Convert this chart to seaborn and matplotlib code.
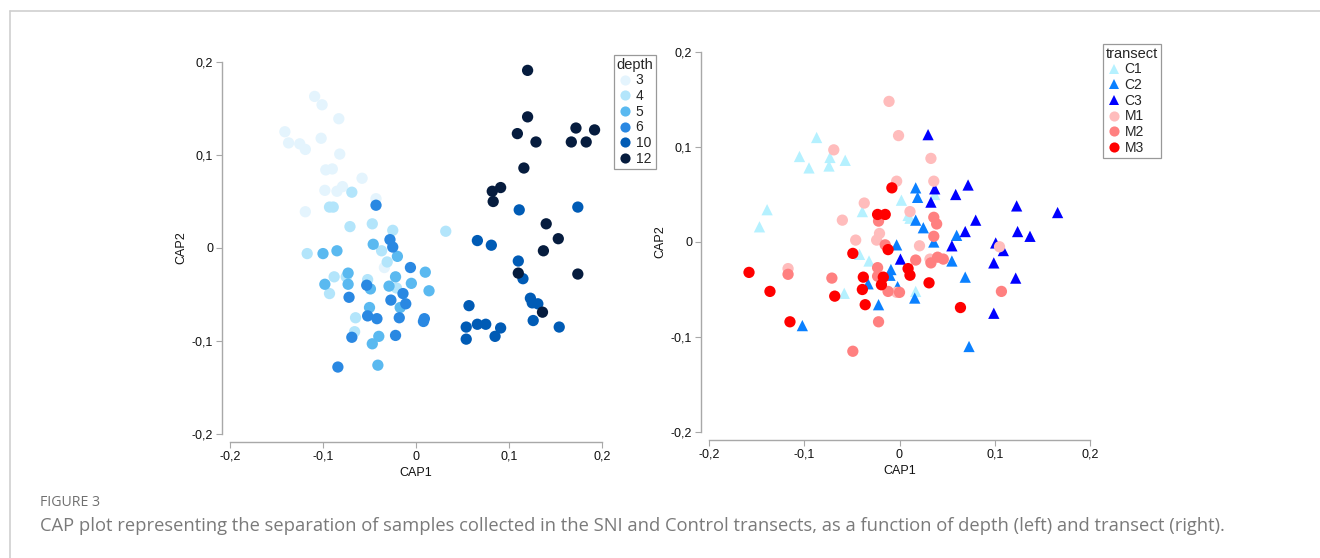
import matplotlib
matplotlib.use('Agg')
import matplotlib.pyplot as plt
import seaborn as sns
import pandas as pd
from matplotlib.lines import Line2D

# ---------------- data: left panel (by depth) ----------------
depth_levels = ['3', '4', '5', '6', '10', '12']
depth_colors = ['#e4f4fd', '#b3e5fb', '#5ab9f0', '#2a88e2', '#005bb5', '#061c3e']

d3_cap1 = [-0.109, -0.101, -0.083, -0.141, -0.137, -0.125, -0.119, -0.102, -0.082,
           -0.097, -0.090, -0.058, -0.098, -0.085, -0.079, -0.043, -0.119, -0.034]
d3_cap2 = [0.163, 0.154, 0.139, 0.125, 0.113, 0.112, 0.106, 0.118, 0.101,
           0.084, 0.085, 0.075, 0.062, 0.061, 0.066, 0.053, 0.039, -0.021]
d4_cap1 = [-0.069, -0.093, -0.089, -0.071, -0.047, -0.025, 0.032, -0.117, -0.037,
           -0.031, -0.088, -0.075, -0.052, -0.021, -0.093, -0.065, -0.066]
d4_cap2 = [0.060, 0.044, 0.044, 0.023, 0.026, 0.019, 0.018, -0.006, -0.003,
           -0.015, -0.031, -0.031, -0.034, -0.043, -0.049, -0.075, -0.090]
d5_cap1 = [-0.046, -0.085, -0.100, -0.020, 0.010, -0.073, -0.022, -0.098, -0.073,
           -0.049, -0.029, -0.005, 0.014, -0.017, -0.050, -0.040, -0.047, -0.041]
d5_cap2 = [0.004, -0.003, -0.006, -0.009, -0.026, -0.027, -0.031, -0.039, -0.039,
           -0.044, -0.041, -0.038, -0.046, -0.064, -0.064, -0.095, -0.103, -0.126]
d6_cap1 = [-0.043, -0.028, -0.025, -0.006, -0.053, -0.014, -0.072, -0.027, -0.011,
           -0.052, -0.042, -0.018, 0.009, 0.008, -0.069, -0.022, -0.084]
d6_cap2 = [0.046, 0.009, 0.001, -0.021, -0.040, -0.049, -0.053, -0.056, -0.060,
           -0.073, -0.076, -0.075, -0.076, -0.079, -0.096, -0.094, -0.128]
d10_cap1 = [0.111, 0.174, 0.066, 0.081, 0.110, 0.115, 0.123, 0.125, 0.131,
            0.057, 0.126, 0.154, 0.054, 0.066, 0.075, 0.091, 0.085, 0.054]
d10_cap2 = [0.041, 0.044, 0.008, 0.003, -0.014, -0.033, -0.054, -0.059, -0.060,
            -0.062, -0.078, -0.085, -0.085, -0.082, -0.082, -0.086, -0.095, -0.098]
d12_cap1 = [0.120, 0.120, 0.109, 0.129, 0.172, 0.192, 0.167, 0.183, 0.116,
            0.091, 0.082, 0.083, 0.140, 0.153, 0.137, 0.110, 0.174, 0.136]
d12_cap2 = [0.191, 0.141, 0.123, 0.114, 0.129, 0.127, 0.114, 0.114, 0.086,
            0.065, 0.061, 0.050, 0.026, 0.010, -0.003, -0.027, -0.028, -0.069]

# ---------------- data: right panel (by transect) ----------------
transect_levels = ['C1', 'C2', 'C3', 'M1', 'M2', 'M3']
transect_colors = ['#b5f1ff', '#0a80ff', '#0000ff', '#ffbcbc', '#ff8080', '#ff0000']
transect_markers = ['^', '^', '^', 'o', 'o', 'o']

c1_cap1 = [-0.087, -0.105, -0.073, -0.057, -0.095, -0.074, -0.139, -0.147, -0.039,
           0.002, 0.009, 0.011, 0.037, -0.042, -0.032, -0.058, 0.017]
c1_cap2 = [0.110, 0.090, 0.089, 0.086, 0.078, 0.080, 0.034, 0.016, 0.032,
           0.044, 0.028, 0.025, 0.050, -0.013, -0.020, -0.054, -0.052]
c2_cap1 = [0.017, 0.019, 0.017, 0.025, 0.060, 0.036, 0.055, -0.003, -0.009,
           -0.010, -0.033, -0.002, -0.022, 0.016, 0.069, -0.102, 0.073]
c2_cap2 = [0.057, 0.047, 0.023, 0.015, 0.007, 0.000, -0.020, -0.003, -0.029,
           -0.035, -0.044, -0.047, -0.066, -0.059, -0.037, -0.088, -0.110]
c3_cap1 = [0.030, 0.037, 0.072, 0.033, 0.059, 0.123, 0.166, 0.080, 0.069,
           0.124, 0.137, 0.055, 0.101, 0.109, 0.001, 0.099, 0.122, 0.099]
c3_cap2 = [0.113, 0.056, 0.060, 0.042, 0.050, 0.038, 0.031, 0.023, 0.011,
           0.011, 0.006, -0.004, -0.001, -0.009, -0.018, -0.022, -0.038, -0.075]
m1_cap1 = [-0.011, -0.001, -0.069, 0.033, -0.003, 0.036, -0.037, -0.060, 0.011,
           -0.021, -0.024, -0.046, 0.021, 0.032, -0.117, -0.003, 0.105]
m1_cap2 = [0.148, 0.112, 0.097, 0.088, 0.064, 0.064, 0.041, 0.023, 0.032,
           0.009, 0.002, 0.002, -0.004, -0.018, -0.028, -0.053, -0.005]
m2_cap1 = [-0.022, 0.036, 0.039, 0.036, -0.015, 0.017, 0.033, 0.040, 0.046,
           -0.023, -0.117, -0.071, -0.023, -0.012, 0.000, -0.022, -0.049, 0.107]
m2_cap2 = [0.022, 0.026, 0.019, 0.006, -0.003, -0.019, -0.022, -0.016, -0.018,
           -0.027, -0.034, -0.038, -0.036, -0.052, -0.053, -0.084, -0.115, -0.052]
m3_cap1 = [-0.008, -0.023, -0.015, -0.049, -0.012, -0.158, 0.009, 0.011, -0.038,
           -0.017, -0.019, 0.031, -0.136, -0.068, -0.039, -0.036, 0.064, -0.115]
m3_cap2 = [0.057, 0.029, 0.029, -0.012, -0.008, -0.032, -0.028, -0.035, -0.037,
           -0.037, -0.045, -0.043, -0.052, -0.057, -0.050, -0.066, -0.069, -0.084]

tick_values = [-0.2, -0.1, 0.0, 0.1, 0.2]
tick_labels = ['-0,2', '-0,1', '0', '0,1', '0,2']

caption_label = 'FIGURE 3'
caption_text = ('CAP plot representing the separation of samples collected in the SNI and '
                'Control transects, as a function of depth (left) and transect (right).')

# ---------------- build tables ----------------
left_groups = [(d3_cap1, d3_cap2), (d4_cap1, d4_cap2), (d5_cap1, d5_cap2),
               (d6_cap1, d6_cap2), (d10_cap1, d10_cap2), (d12_cap1, d12_cap2)]
left_df = pd.concat([pd.DataFrame({'CAP1': x, 'CAP2': y, 'depth': lev})
                     for lev, (x, y) in zip(depth_levels, left_groups)], ignore_index=True)

right_groups = [(c1_cap1, c1_cap2), (c2_cap1, c2_cap2), (c3_cap1, c3_cap2),
                (m1_cap1, m1_cap2), (m2_cap1, m2_cap2), (m3_cap1, m3_cap2)]
right_df = pd.concat([pd.DataFrame({'CAP1': x, 'CAP2': y, 'transect': lev})
                      for lev, (x, y) in zip(transect_levels, right_groups)], ignore_index=True)

# ---------------- style ----------------
sns.set_style('white')
plt.rcParams['font.family'] = ['Liberation Sans', 'DejaVu Sans']

W, H = 1320, 558
fig = plt.figure(figsize=(W / 100, H / 100), dpi=100)


def px_axes(x0, y0, x1, y1):
    return fig.add_axes([x0 / W, 1 - y1 / H, (x1 - x0) / W, (y1 - y0) / H])


ax1 = px_axes(230, 62, 602, 434)
ax2 = px_axes(709, 52, 1090, 432)

sns.scatterplot(data=left_df, x='CAP1', y='CAP2', hue='depth', hue_order=depth_levels,
                palette=dict(zip(depth_levels, depth_colors)), s=66, linewidth=0,
                ax=ax1)
sns.scatterplot(data=right_df, x='CAP1', y='CAP2', hue='transect', style='transect',
                hue_order=transect_levels, style_order=transect_levels,
                palette=dict(zip(transect_levels, transect_colors)),
                markers=dict(zip(transect_levels, transect_markers)),
                s=66, linewidth=0, ax=ax2)

spine_col = '#a8a8a8'
for ax in (ax1, ax2):
    ax.set_xlim(-0.2, 0.2)
    ax.set_ylim(-0.2, 0.2)
    ax.set_xticks(tick_values)
    ax.set_xticklabels(tick_labels)
    ax.set_yticks(tick_values)
    ax.set_yticklabels(tick_labels)
    for side in ('top', 'right'):
        ax.spines[side].set_visible(False)
    for side in ('left', 'bottom'):
        ax.spines[side].set_position(('outward', 6))
        ax.spines[side].set_color(spine_col)
        ax.spines[side].set_linewidth(1.0)
    ax.tick_params(axis='both', which='major', direction='out', length=4, width=0.8,
                   color=spine_col, labelsize=9, labelcolor='#111111', pad=2,
                   left=True, bottom=True)
    ax.set_xlabel('CAP1', fontsize=9, color='#111111', labelpad=3)
    ax.set_ylabel('CAP2', fontsize=9, color='#111111', labelpad=3)
    ax.set_facecolor('none')

legend_kw = dict(frameon=True, fancybox=False, edgecolor='#999999', framealpha=1,
                 fontsize=10, title_fontsize=10.5, borderpad=0.2, labelspacing=0.12,
                 handletextpad=0.15, handlelength=1.2, borderaxespad=0, markerscale=0.9)
sns.move_legend(ax1, 'upper left', bbox_to_anchor=((614 - 230) / 372, (434 - 55) / 372),
                title='depth', **legend_kw)
sns.move_legend(ax2, 'upper left', bbox_to_anchor=((1103 - 709) / 381, (432 - 44) / 380),
                title='transect', **legend_kw)
for ax in (ax1, ax2):
    leg = ax.get_legend()
    leg.get_frame().set_linewidth(0.9)
    leg._legend_box.align = 'left'

# ---------------- frame and caption ----------------
frame_col = '#cfcfcf'
fig.add_artist(Line2D([10 / W, 1.0], [1 - 11 / H, 1 - 11 / H], transform=fig.transFigure,
                      color=frame_col, linewidth=1.2))
fig.add_artist(Line2D([10 / W, 10 / W], [0.0, 1 - 11 / H], transform=fig.transFigure,
                      color=frame_col, linewidth=1.2))

fig.text(40 / W, 1 - 502 / H, caption_label, fontsize=10.2, color='#707070',
         family=['Open Sans', 'DejaVu Sans'], va='center', ha='left')
fig.text(40 / W, 1 - 526 / H, caption_text, fontsize=13.25, color='#7a7a7a',
         family=['Open Sans', 'DejaVu Sans'], va='center', ha='left')

fig.savefig('out.png', dpi=100)
